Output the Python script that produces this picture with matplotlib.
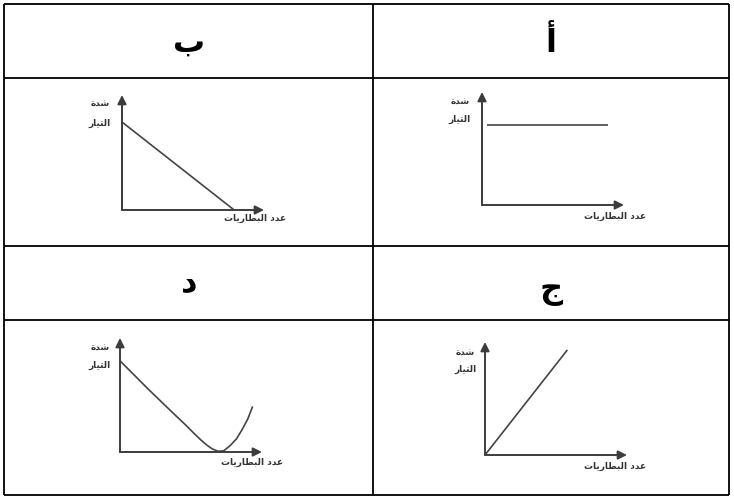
import matplotlib
matplotlib.use("Agg")
import matplotlib.pyplot as plt

# ---------- data ----------
# Arabic text in presentation forms, visual (left-to-right) order
headers = ["\uFE8F", "\uFE83", "\uFEA9", "\uFE9D"]          # ب  أ  د  ج
ylabel_top = "\uFE93\uFEAA\uFEB7"                              # شدة
ylabel_bottom = "\uFEAD\uFE8E\uFEF4\uFE98\uFEDF\uFE8D"         # التيار
xlabel = "\uFE95\uFE8E\uFEF3\uFEAD\uFE8E\uFEC4\uFE92\uFEDF\uFE8D \uFEA9\uFEAA\uFECB"  # عدد البطاريات

# graph أ : constant current
a_x = [0.35, 8.9]
a_y = [7.1, 7.1]
# graph ب : decreasing line
b_x = [0.0, 7.9]
b_y = [7.65, 0.0]
# graph ج : increasing line
c_x = [0.0, 5.8]
c_y = [0.0, 9.3]
# graph د : decreasing then increasing curve
d_x = [0.0, 1.0, 2.0, 3.0, 4.0, 4.6, 5.2, 5.7, 6.1, 6.5, 6.9, 7.3, 7.75, 8.2, 8.57, 9.0, 9.34]
d_y = [8.0, 6.75, 5.5, 4.3, 3.1, 2.4, 1.65, 1.05, 0.62, 0.27, 0.07, 0.1, 0.55, 1.15, 1.9, 2.9, 4.0]

W, H = 734, 501
fig = plt.figure(figsize=(W / 100, H / 100), dpi=100)
fig.patch.set_facecolor("white")

bg = fig.add_axes([0, 0, 1, 1])
bg.set_xlim(0, W)
bg.set_ylim(H, 0)
bg.axis("off")

# table grid
col_edges = [4, 373, 729]
row_edges = [4, 78, 246, 320, 495]
bg.hlines(row_edges, col_edges[0], col_edges[-1], colors="black", lw=1.3)
bg.vlines(col_edges, row_edges[0], row_edges[-1], colors="black", lw=1.3)

# headers
hfont = dict(fontsize=23, fontweight="bold", ha="center", va="center",
             family="DejaVu Sans", color="black")
bg.text(189, 43, headers[0], **hfont)
bg.text(551, 43, headers[1], **hfont)
bg.text(189, 283, headers[2], **hfont)
bg.text(551, 291, headers[3], **hfont)

axis_col = "#3c3c3c"
line_col = "#444444"

# (origin x, origin y, x tip, y tip) in pixels
panels = [
    ((122, 210, 264, 95), b_x, b_y, (100, 104, 100, 123), (255, 218)),
    ((482, 205, 624, 92), a_x, a_y, (460, 102, 460, 119), (615, 216)),
    ((120, 452, 262, 338), d_x, d_y, (100, 348, 100, 365), (252, 462)),
    ((485, 455, 627, 342), c_x, c_y, (465, 353, 465, 369), (615, 466)),
]

lab_font = dict(fontsize=6.5, fontweight="bold", ha="center", va="center",
                family="DejaVu Sans", color="#333333")

for (ox, oy, xt, yt), xs, ys, (lx1, ly1, lx2, ly2), (xlx, xly) in panels:
    ax = fig.add_axes([ox / W, (H - oy) / H, (xt - ox) / W, (oy - yt) / H])
    ax.set_xlim(0, 10)
    ax.set_ylim(0, 10)
    ax.axis("off")
    ax.plot(xs, ys, color=line_col, lw=1.2, solid_capstyle="butt",
            solid_joinstyle="round", clip_on=False)
    ax.annotate("", xy=(0, 1), xytext=(0, 0), xycoords="axes fraction",
                arrowprops=dict(arrowstyle="-|>", lw=1.4, color=axis_col,
                                mutation_scale=13, shrinkA=0, shrinkB=0))
    ax.annotate("", xy=(1, 0), xytext=(0, 0), xycoords="axes fraction",
                arrowprops=dict(arrowstyle="-|>", lw=1.4, color=axis_col,
                                mutation_scale=13, shrinkA=0, shrinkB=0))
    bg.text(lx1, ly1, ylabel_top, **lab_font)
    bg.text(lx2, ly2, ylabel_bottom, **lab_font)
    bg.text(xlx, xly, xlabel, **lab_font)

fig.savefig("out.png", dpi=100, facecolor="white")
